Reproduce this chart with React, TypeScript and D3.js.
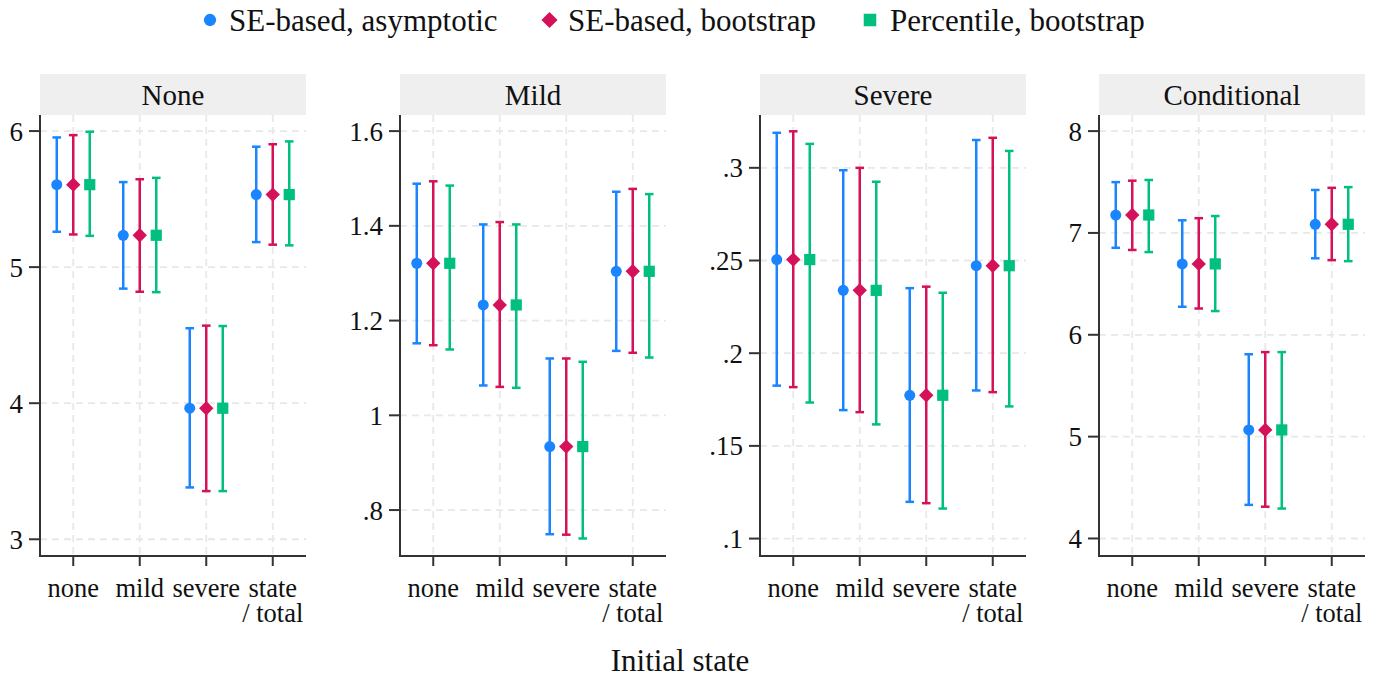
import React from "react";
import * as d3 from "d3";

// categories & panels
const categories = ["none", "mild", "severe", "state / total"];
const panelTitles = ["None", "Mild", "Severe", "Conditional"];
const seriesNames = ["SE-based, asymptotic", "SE-based, bootstrap", "Percentile, bootstrap"];
const seriesColors = ["#1a85ff", "#d41159", "#00bf7f"];

// point estimates (same for all three CI methods)
const noneEst = [5.606, 5.234, 3.963, 5.533];
const mildEst = [1.321, 1.233, 0.934, 1.304];
const severeEst = [0.2505, 0.2339, 0.1773, 0.2472];
const condEst = [7.176, 6.696, 5.066, 7.085];

// [lower, upper] per category
const noneAsym = [[5.26, 5.953], [4.842, 5.625], [3.381, 4.551], [5.184, 5.885]];
const noneBootSE = [[5.24, 5.97], [4.819, 5.646], [3.354, 4.57], [5.165, 5.903]];
const nonePct = [[5.23, 5.995], [4.816, 5.656], [3.354, 4.567], [5.16, 5.924]];

const mildAsym = [[1.152, 1.489], [1.063, 1.403], [0.749, 1.12], [1.136, 1.472]];
const mildBootSE = [[1.148, 1.494], [1.06, 1.408], [0.748, 1.12], [1.132, 1.478]];
const mildPct = [[1.139, 1.485], [1.058, 1.403], [0.74, 1.113], [1.122, 1.467]];

const severeAsym = [[0.1825, 0.3189], [0.1693, 0.2987], [0.1198, 0.2351], [0.1799, 0.315]];
const severeBootSE = [[0.1817, 0.3197], [0.1682, 0.3], [0.1191, 0.2359], [0.179, 0.3162]];
const severePct = [[0.1734, 0.3129], [0.1616, 0.2925], [0.1162, 0.2326], [0.1713, 0.3091]];

const condAsym = [[6.854, 7.499], [6.275, 7.124], [4.33, 5.809], [6.751, 7.422]];
const condBootSE = [[6.833, 7.513], [6.258, 7.145], [4.312, 5.83], [6.733, 7.443]];
const condPct = [[6.812, 7.52], [6.233, 7.166], [4.294, 5.83], [6.723, 7.45]];

// y ticks
const noneTicks = [3, 4, 5, 6];
const noneTickLabels = ["3", "4", "5", "6"];
const mildTicks = [0.8, 1, 1.2, 1.4, 1.6];
const mildTickLabels = [".8", "1", "1.2", "1.4", "1.6"];
const severeTicks = [0.1, 0.15, 0.2, 0.25, 0.3];
const severeTickLabels = [".1", ".15", ".2", ".25", ".3"];
const condTicks = [4, 5, 6, 7, 8];
const condTickLabels = ["4", "5", "6", "7", "8"];

const panels = [
  { est: noneEst, ci: [noneAsym, noneBootSE, nonePct], ticks: noneTicks, labels: noneTickLabels, domain: [2.877, 6.118] },
  { est: mildEst, ci: [mildAsym, mildBootSE, mildPct], ticks: mildTicks, labels: mildTickLabels, domain: [0.703, 1.634] },
  { est: severeEst, ci: [severeAsym, severeBootSE, severePct], ticks: severeTicks, labels: severeTickLabels, domain: [0.0906, 0.3285] },
  { est: condEst, ci: [condAsym, condBootSE, condPct], ticks: condTicks, labels: condTickLabels, domain: [3.828, 8.158] },
];

const W = 1376, H = 677;
const plotLefts = [40, 400, 760, 1099];
const plotW = 266;
const headerTop = 74, plotTop = 115, plotBottom = 556;
const offsets = [-16.5, 0, 16.5];
const font = '"Liberation Serif", Tinos, "Times New Roman", Times, serif';
const txt = { fontFamily: font, fill: "#111" };

function Marker({ kind, x, y, color, sz = 1 }: { kind: number; x: number; y: number; color: string; sz?: number }) {
  if (kind === 0) return <circle cx={x} cy={y} r={5.5 * sz} fill={color} />;
  if (kind === 1) {
    const s = 7.2 * sz;
    return <path d={`M${x},${y - s}L${x + s},${y}L${x},${y + s}L${x - s},${y}Z`} fill={color} />;
  }
  const h = 5.6 * sz;
  return <rect x={x - h} y={y - h} width={2 * h} height={2 * h} fill={color} />;
}

function Panel({ idx }: { idx: number }) {
  const p = panels[idx];
  const left = plotLefts[idx];
  const x = d3.scalePoint<string>().domain(categories).range([left, left + plotW]).padding(0.5);
  const y = d3.scaleLinear().domain(p.domain).range([plotBottom, plotTop]);
  const dash = "7,5";
  return (
    <g>
      <rect x={left} y={headerTop} width={plotW} height={plotTop - headerTop} fill="#efefef" />
      <text x={left + plotW / 2} y={105} textAnchor="middle" fontSize={29} style={txt}>
        {panelTitles[idx]}
      </text>
      {p.ticks.map((t) => (
        <line key={"gy" + t} x1={left} x2={left + plotW} y1={y(t)} y2={y(t)} stroke="#e8e8e8" strokeWidth={1.8} strokeDasharray={dash} />
      ))}
      {categories.map((c) => (
        <line key={"gx" + c} x1={x(c)} x2={x(c)} y1={plotTop} y2={plotBottom} stroke="#e8e8e8" strokeWidth={1.8} strokeDasharray={dash} />
      ))}
      {p.ci.map((series, si) =>
        series.map((ci, ci_i) => {
          const cx = (x(categories[ci_i]) as number) + offsets[si];
          const col = seriesColors[si];
          return (
            <g key={si + "-" + ci_i}>
              <line x1={cx} x2={cx} y1={y(ci[0])} y2={y(ci[1])} stroke={col} strokeWidth={2.5} />
              <line x1={cx - 4.3} x2={cx + 4.3} y1={y(ci[0])} y2={y(ci[0])} stroke={col} strokeWidth={2.5} />
              <line x1={cx - 4.3} x2={cx + 4.3} y1={y(ci[1])} y2={y(ci[1])} stroke={col} strokeWidth={2.5} />
              <Marker kind={si} x={cx} y={y(p.est[ci_i])} color={col} />
            </g>
          );
        })
      )}
      <line x1={left} x2={left} y1={plotTop} y2={plotBottom + 1} stroke="#333" strokeWidth={2} />
      <line x1={left - 1} x2={left + plotW} y1={plotBottom} y2={plotBottom} stroke="#333" strokeWidth={2} />
      {p.ticks.map((t, i) => (
        <g key={"ty" + t}>
          <line x1={left - 11} x2={left} y1={y(t)} y2={y(t)} stroke="#333" strokeWidth={2} />
          <text x={left - 17} y={y(t)} dy="0.35em" textAnchor="end" fontSize={27} style={txt}>
            {p.labels[i]}
          </text>
        </g>
      ))}
      {categories.map((c) => {
        const lines = c === "state / total" ? ["state", "/ total"] : [c];
        return (
          <g key={"tx" + c}>
            <line x1={x(c)} x2={x(c)} y1={plotBottom} y2={plotBottom + 10} stroke="#333" strokeWidth={2} />
            <text x={x(c)} y={597} textAnchor="middle" fontSize={26.5} style={txt}>
              {lines.map((l, li) => (
                <tspan key={l} x={x(c)} dy={li === 0 ? 0 : 25}>
                  {l}
                </tspan>
              ))}
            </text>
          </g>
        );
      })}
    </g>
  );
}

export default function App() {
  const legendX = [210, 549.5, 870];
  const legendTextX = [229, 568, 890];
  return (
    <svg width={W} height={H} style={{ position: "absolute", left: 0, top: 0, background: "#fff" }}>
      {seriesNames.map((s, i) => (
        <g key={s}>
          <Marker kind={i} x={legendX[i]} y={20} color={seriesColors[i]} sz={1.12} />
          <text x={legendTextX[i]} y={31} fontSize={31} style={txt}>
            {s}
          </text>
        </g>
      ))}
      {panels.map((_, i) => (
        <Panel key={i} idx={i} />
      ))}
      <text x={680} y={671} textAnchor="middle" fontSize={31} style={txt}>
        Initial state
      </text>
    </svg>
  );
}
